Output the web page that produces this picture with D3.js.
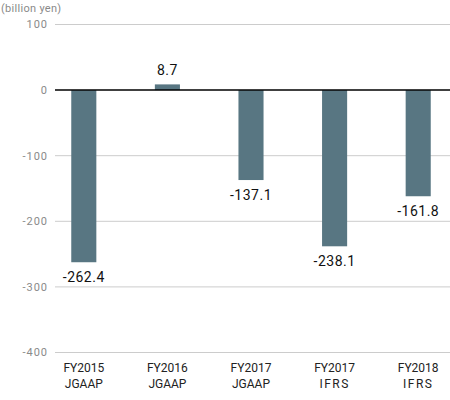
<!DOCTYPE html>
<html>
<head>
<meta charset="utf-8">
<script src="https://cdn.jsdelivr.net/npm/d3@7"></script>
<style>
  body { margin: 0; background: #fff; }
  text { font-family: Roboto, "DejaVu Sans", sans-serif; }
</style>
</head>
<body>
<div id="chart"></div>
<script>
const years = ["FY2015", "FY2016", "FY2017", "FY2017", "FY2018"];
const standards = ["JGAAP", "JGAAP", "JGAAP", "IFRS", "IFRS"];
const values = [-262.4, 8.7, -137.1, -238.1, -161.8];
const yTicks = [100, 0, -100, -200, -300, -400];

const width = 450;
const height = 400;
const barColor = "#587682";

const data = years.map((y, i) => ({ key: i, year: y, std: standards[i], value: values[i] }));

const svg = d3.select("#chart")
    .append("svg")
    .attr("width", width)
    .attr("height", height);

const x = d3.scaleBand()
    .domain(data.map(d => d.key))
    .range([42, 460])
    .paddingInner(0.7)
    .paddingOuter(0.35);

const y = d3.scaleLinear()
    .domain([-400, 100])
    .range([352.5, 24.5]);

// gridlines
svg.append("g")
    .selectAll("line")
    .data(yTicks.filter(t => t !== 0))
    .enter().append("line")
    .attr("x1", 55)
    .attr("x2", width)
    .attr("y1", d => y(d))
    .attr("y2", d => y(d))
    .attr("stroke", "#cccccc")
    .attr("stroke-width", 1);

// y tick labels
svg.append("g")
    .selectAll("text")
    .data(yTicks)
    .enter().append("text")
    .attr("x", 48)
    .attr("y", d => y(d))
    .attr("dy", "0.35em")
    .attr("text-anchor", "end")
    .attr("fill", "#8a8a8a")
    .style("font-size", "11px")
    .style("letter-spacing", "1px")
    .text(d => d);

// unit label
svg.append("text")
    .attr("x", 1)
    .attr("y", 12)
    .attr("fill", "#8a8a8a")
    .style("font-size", "11px")
    .style("letter-spacing", "0.3px")
    .text("(billion yen)");

// bars
svg.selectAll(".bar")
    .data(data)
    .enter().append("rect")
    .attr("class", "bar")
    .attr("x", d => x(d.key))
    .attr("width", x.bandwidth())
    .attr("y", d => y(Math.max(0, d.value)))
    .attr("height", d => Math.abs(y(d.value) - y(0)))
    .attr("fill", barColor);

// zero line
svg.append("line")
    .attr("x1", 55)
    .attr("x2", width)
    .attr("y1", y(0))
    .attr("y2", y(0))
    .attr("stroke", "#000")
    .attr("stroke-width", 1.5);

// value labels
svg.selectAll(".val")
    .data(data)
    .enter().append("text")
    .attr("class", "val")
    .attr("x", d => x(d.key) + x.bandwidth() / 2)
    .attr("y", d => d.value < 0 ? y(d.value) + 20 : y(d.value) - 9)
    .attr("text-anchor", "middle")
    .attr("fill", "#111")
    .style("font-size", "14px")
    .style("letter-spacing", "0.5px")
    .text(d => d.value.toFixed(1));

// category labels
const cat = svg.selectAll(".cat")
    .data(data)
    .enter().append("text")
    .attr("class", "cat")
    .attr("text-anchor", "middle")
    .attr("fill", "#222")
    .style("font-size", "12px");

cat.append("tspan")
    .attr("x", d => x(d.key) + x.bandwidth() / 2)
    .attr("y", 372)
    .text(d => d.year);

cat.append("tspan")
    .attr("x", d => x(d.key) + x.bandwidth() / 2)
    .attr("y", 388)
    .style("letter-spacing", d => d.std === "IFRS" ? "1.5px" : null)
    .text(d => d.std);
</script>
</body>
</html>
